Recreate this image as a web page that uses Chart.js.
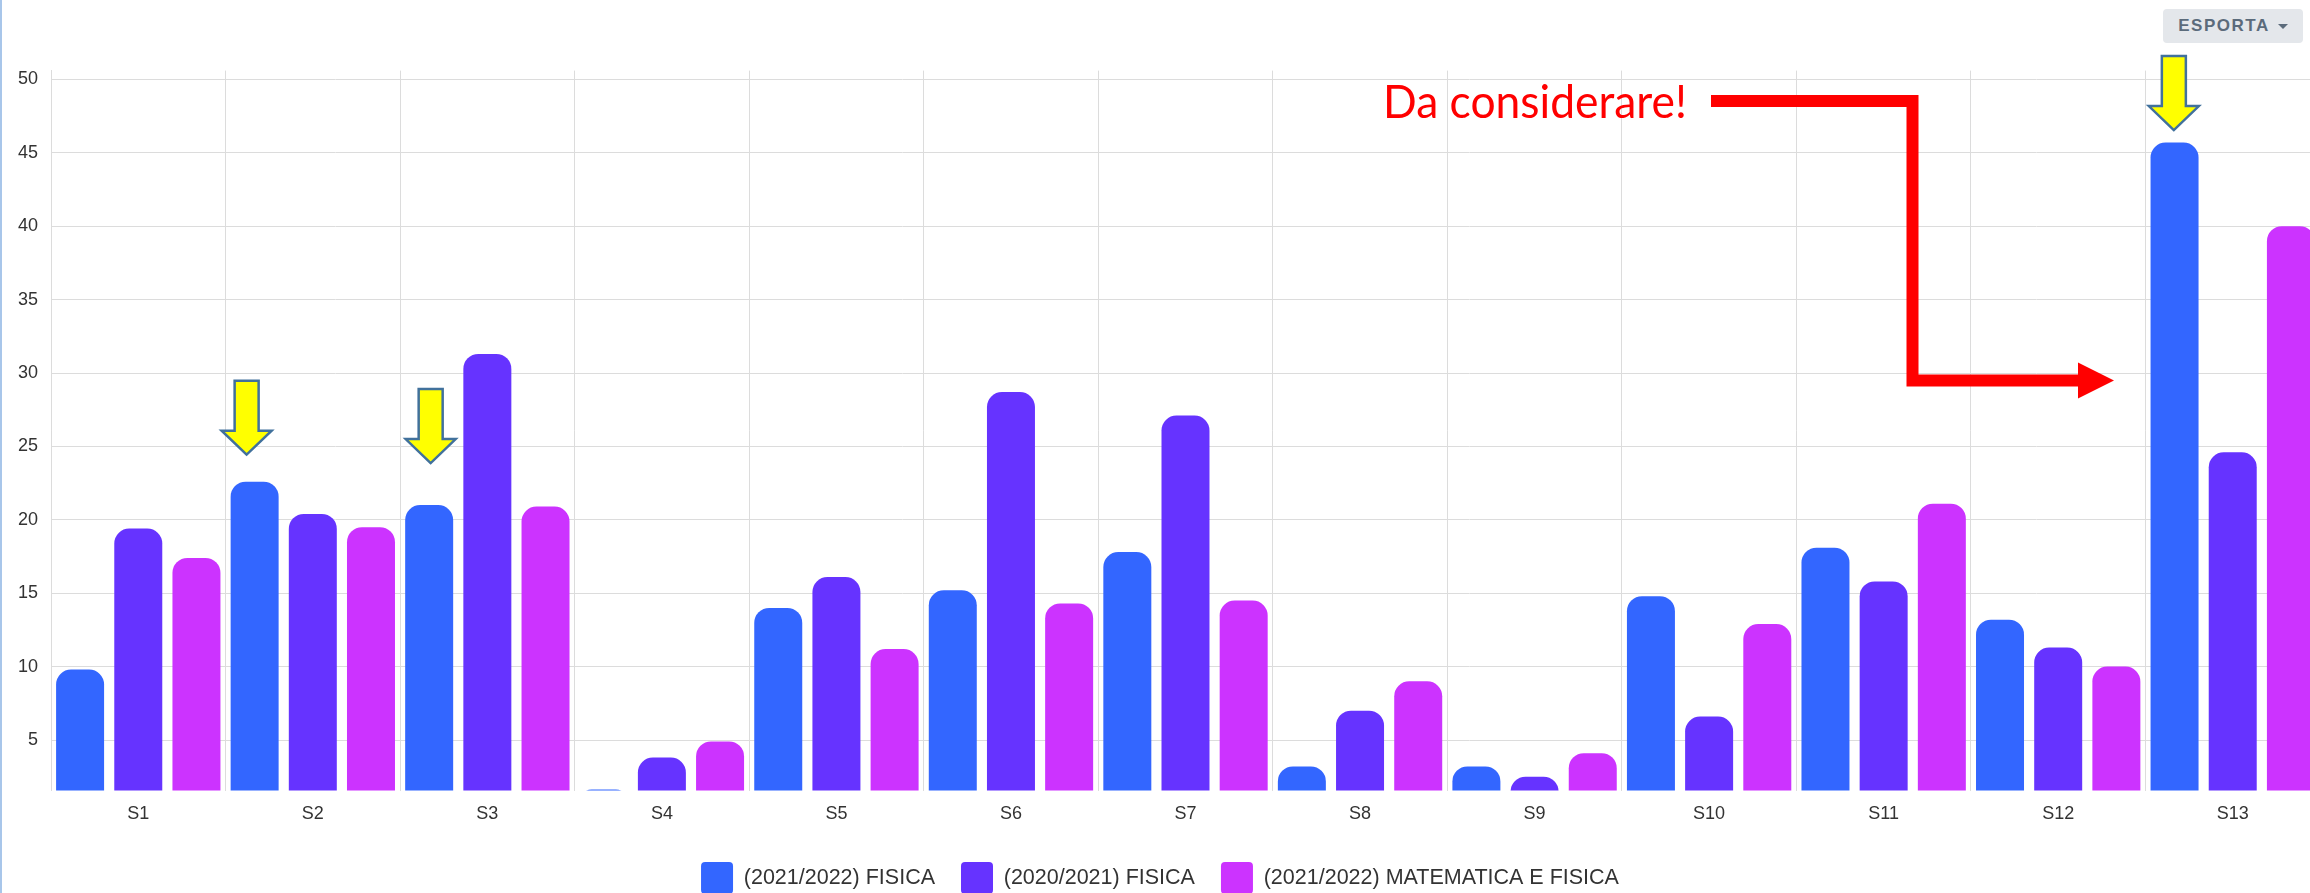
<!DOCTYPE html>
<html>
<head>
<meta charset="utf-8">
<script src="https://cdn.jsdelivr.net/npm/chart.js@4.4.0/dist/chart.umd.min.js"></script>
<style>
    html, body { margin: 0; padding: 0; background: #fff; overflow: hidden; }
    #wrap { position: relative; width: 2320px; height: 904px; }
    #edge { position: absolute; left: 0; top: 0; width: 2px; height: 904px; background: #a8c6ea; }
    #esporta {
        position: absolute; left: 2163px; top: 9px; width: 140px; height: 34px;
        background: #e4e7eb; border-radius: 4px;
        font: bold 17px "Liberation Sans", Arial, sans-serif; letter-spacing: 1.5px;
        color: #5b6b7b; line-height: 34px; text-align: center;
    }
    #esporta .caret {
        display: inline-block; width: 0; height: 0; margin-left: 8px; vertical-align: middle;
        border-left: 5px solid transparent; border-right: 5px solid transparent; border-top: 5px solid #5b6b7b;
    }
</style>
</head>
<body>
<div id="wrap">
    <canvas id="chart1" width="2320" height="904"></canvas>
    <div id="edge"></div>
    <div id="esporta">ESPORTA<span class="caret"></span></div>
</div>
<script>
const labels = ["S1","S2","S3","S4","S5","S6","S7","S8","S9","S10","S11","S12","S13"];
const fisica2122 = [9.8, 22.6, 21.0, 1.62, 14.0, 15.2, 17.8, 3.2, 3.2, 14.8, 18.1, 13.2, 45.7];
const fisica2021 = [19.4, 20.4, 31.3, 3.8, 16.1, 28.7, 27.1, 7.0, 2.5, 6.6, 15.8, 11.3, 24.6];
const matFis2122 = [17.4, 19.5, 20.9, 4.9, 11.2, 14.3, 14.5, 9.0, 4.1, 12.9, 21.1, 10.0, 40.0];
const seriesNames = ["(2021/2022) FISICA", "(2020/2021) FISICA", "(2021/2022) MATEMATICA E FISICA"];
const yMin = 1.56;
const yMax = 50.6;
const yStep = 5;

// yellow arrows pointing at some blue bars (dataset 0)
const yellowArrows = [
    {index: 1, dx: -8, gap: 27},
    {index: 2, dx: 1.5, gap: 42},
    {index: 12, dx: -0.7, gap: 12.5}
];

const font = "'Liberation Sans', Arial, sans-serif";

const annotations = {
    id: "annotations",
    afterDraw(chart) {
        const ctx = chart.ctx;
        const meta = chart.getDatasetMeta(0);
        ctx.save();
        // yellow arrows
        yellowArrows.forEach(a => {
            const bar = meta.data[a.index];
            const tx = bar.x + a.dx, ty = bar.y - a.gap;
            ctx.beginPath();
            ctx.moveTo(tx, ty);
            ctx.lineTo(tx - 25, ty - 24);
            ctx.lineTo(tx - 12, ty - 24);
            ctx.lineTo(tx - 12, ty - 74);
            ctx.lineTo(tx + 12, ty - 74);
            ctx.lineTo(tx + 12, ty - 24);
            ctx.lineTo(tx + 25, ty - 24);
            ctx.closePath();
            ctx.fillStyle = "#ffff00";
            ctx.fill();
            ctx.lineWidth = 2.5;
            ctx.strokeStyle = "#41719c";
            ctx.stroke();
        });
        // red note
        ctx.fillStyle = "#ff0000";
        ctx.font = "46px Lato, 'Noto Sans', sans-serif";
        ctx.textBaseline = "alphabetic";
        ctx.textAlign = "left";
        ctx.fillText("Da considerare!", 1383, 118, 304);
        ctx.beginPath();
        ctx.moveTo(1711, 101);
        ctx.lineTo(1912.5, 101);
        ctx.lineTo(1912.5, 380.5);
        ctx.lineTo(2080, 380.5);
        ctx.lineWidth = 12;
        ctx.lineJoin = "miter";
        ctx.strokeStyle = "#ff0000";
        ctx.stroke();
        ctx.beginPath();
        ctx.moveTo(2078, 362.5);
        ctx.lineTo(2114, 380.5);
        ctx.lineTo(2078, 398.5);
        ctx.closePath();
        ctx.fill();
        ctx.restore();
    }
};

const chart1 = document.getElementById("chart1");

const barChart = new Chart(chart1, {
    type: "bar",
    data: {
        labels: labels,
        datasets: [
            {label: seriesNames[0], data: fisica2122, backgroundColor: "#3366ff"},
            {label: seriesNames[1], data: fisica2021, backgroundColor: "#6633ff"},
            {label: seriesNames[2], data: matFis2122, backgroundColor: "#cc33ff"}
        ]
    },
    options: {
        responsive: false,
        devicePixelRatio: 1,
        animation: false,
        layout: {padding: {top: 70.6, left: 0, right: 0, bottom: 0}},
        datasets: {
            bar: {
                categoryPercentage: 1.0,
                barPercentage: 0.825,
                borderRadius: 15,
                borderSkipped: "start"
            }
        },
        plugins: {
            tooltip: {enabled: false},
            legend: {
                position: "bottom",
                labels: {
                    boxWidth: 32,
                    boxHeight: 32,
                    padding: 26,
                    useBorderRadius: true,
                    borderRadius: 4,
                    color: "#333",
                    font: {family: font, size: 21.5}
                }
            }
        },
        scales: {
            x: {
                grid: {color: "#dcdcdc", drawTicks: false},
                border: {display: false},
                ticks: {color: "#333", padding: 13, font: {family: font, size: 18}},
                afterFit(scale) { scale.height = 45.5; }
            },
            y: {
                min: yMin,
                max: yMax,
                grid: {color: "#dcdcdc", drawTicks: false},
                border: {color: "#dcdcdc"},
                ticks: {stepSize: yStep, color: "#333", padding: 13, font: {family: font, size: 18}},
                afterBuildTicks(scale) {
                    const ticks = [];
                    for (let v = yStep; v <= yMax; v += yStep) ticks.push({value: v});
                    scale.ticks = ticks;
                },
                afterFit(scale) { scale.width = 51; }
            }
        }
    },
    plugins: [annotations]
});
</script>
</body>
</html>
